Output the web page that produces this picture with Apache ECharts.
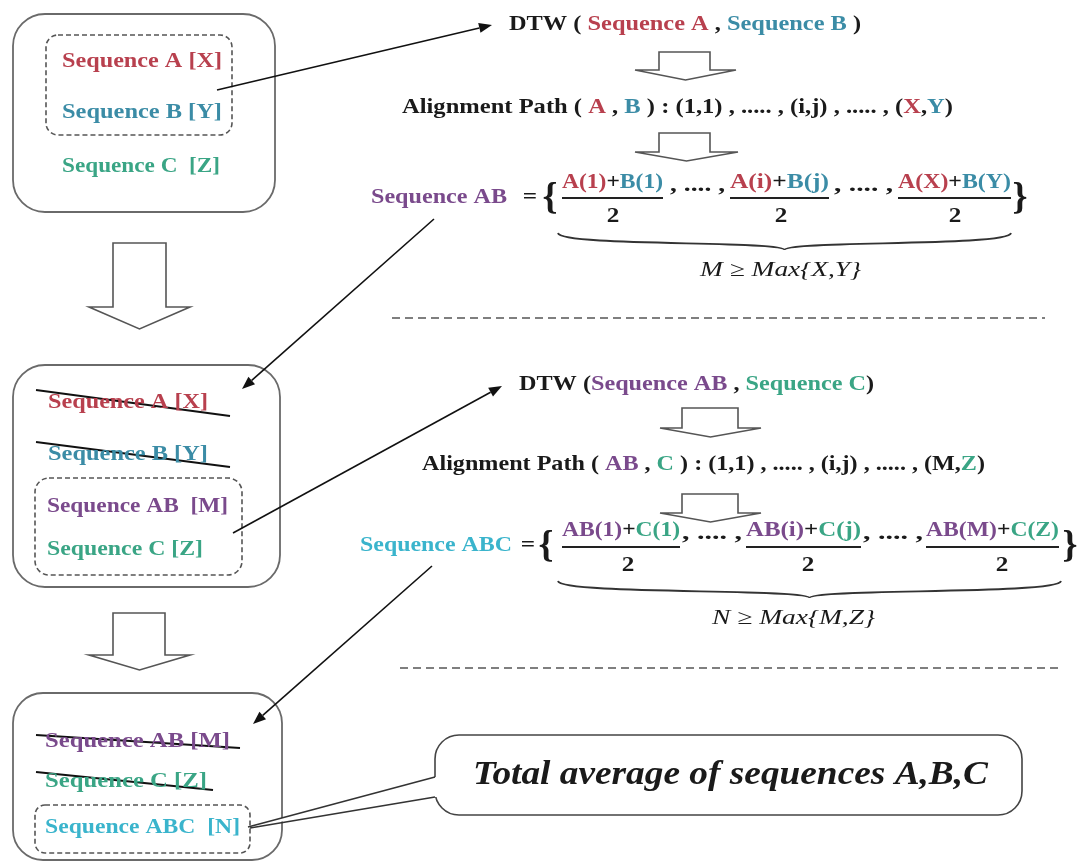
<!DOCTYPE html>
<html>
<head>
<meta charset="utf-8">
<script src="https://cdn.jsdelivr.net/npm/echarts@6/dist/echarts.min.js"></script>
<style>
  html, body { margin: 0; background: #fff; }
  #main { width: 1081px; height: 864px; }
</style>
</head>
<body>
<div id="main"></div>
<script>
// diagram texts
var boxOneLabels = ['Sequence A [X]', 'Sequence B [Y]', 'Sequence C  [Z]'];
var boxTwoLabels = ['Sequence A [X]', 'Sequence B [Y]', 'Sequence AB  [M]', 'Sequence C [Z]'];
var boxThreeLabels = ['Sequence AB [M]', 'Sequence C [Z]', 'Sequence ABC  [N]'];
var dtwPairs = [['Sequence A', 'Sequence B'], ['Sequence AB', 'Sequence C']];
var pathPairs = [['A', 'B'], ['AB', 'C']];
var pathEnds = [['X', 'Y'], ['M', 'Z']];
var resultNames = ['Sequence AB', 'Sequence ABC'];
var fracTermsAB = [['A(1)', 'B(1)'], ['A(i)', 'B(j)'], ['A(X)', 'B(Y)']];
var fracTermsABC = [['AB(1)', 'C(1)'], ['AB(i)', 'C(j)'], ['AB(M)', 'C(Z)']];
var fracDenom = '2';
var lengthRules = ['M \u2265 Max{X,Y}', 'N \u2265 Max{M,Z}'];
var calloutText = 'Total average of sequences A,B,C';

var colors = { k: '#1a1a1a', r: '#b8404e', b: '#3b8ca6', g: '#3aa585', p: '#7a4a8c', c: '#3ab4cc' };
var FONT = '"Liberation Serif", "Times New Roman", serif';
var ctx = document.createElement('canvas').getContext('2d');

function measure(str, font) {
  ctx.font = font;
  return ctx.measureText(str).width;
}

function richStyles(size, weight, fstyle) {
  var rich = {};
  Object.keys(colors).forEach(function (k) {
    rich[k] = { fill: colors[k], fontSize: size, fontFamily: FONT, fontWeight: weight, fontStyle: fstyle };
  });
  return rich;
}

// parts: [[text, colourKey], ...], stretched to fit between x0 and x1, centred on y
function label(parts, x0, x1, y, size, weight, fstyle) {
  size = size || 20;
  weight = weight || 'bold';
  fstyle = fstyle || 'normal';
  var font = fstyle + ' ' + weight + ' ' + size + 'px ' + FONT;
  var plain = parts.map(function (p) { return p[0]; }).join('');
  var w = measure(plain, font);
  return {
    type: 'text', x: x0, y: y, scaleX: (x1 - x0) / w, z: 10,
    style: {
      text: parts.map(function (p) { return '{' + p[1] + '|' + p[0] + '}'; }).join(''),
      rich: richStyles(size, weight, fstyle),
      font: font, fill: colors.k,
      align: 'left', verticalAlign: 'middle', textAlign: 'left', textVerticalAlign: 'middle'
    }
  };
}

function centerText(str, cx, y, size, color, sx) {
  return {
    type: 'text', x: cx, y: y, scaleX: sx || 1.2, z: 10,
    style: {
      text: str, font: 'bold ' + size + 'px ' + FONT, fill: color,
      align: 'center', verticalAlign: 'middle', textAlign: 'center', textVerticalAlign: 'middle'
    }
  };
}

function box(x, y, w, h, r, dashed) {
  return {
    type: 'rect', z: dashed ? 3 : 1,
    shape: { x: x, y: y, width: w, height: h, r: r },
    style: dashed
      ? { fill: 'none', stroke: '#555', lineWidth: 1.6, lineDash: [5, 3] }
      : { fill: '#fff', stroke: '#6a6a6a', lineWidth: 1.8 }
  };
}

function line(x1, y1, x2, y2, w, color) {
  return { type: 'line', z: 6, shape: { x1: x1, y1: y1, x2: x2, y2: y2 }, style: { stroke: color || '#111', lineWidth: w || 1.6 } };
}

function arrowLine(x1, y1, x2, y2) {
  var a = Math.atan2(y2 - y1, x2 - x1), L = 13, W = 5;
  var bx = x2 - L * Math.cos(a), by = y2 - L * Math.sin(a);
  return [
    line(x1, y1, bx, by),
    {
      type: 'polygon', z: 6,
      shape: { points: [[x2, y2], [bx - W * Math.sin(a), by + W * Math.cos(a)], [bx + W * Math.sin(a), by - W * Math.cos(a)]] },
      style: { fill: '#111' }
    }
  ];
}

// hollow block arrow pointing down
function downArrow(sx0, sx1, top, bottom, hx0, hx1, tipY) {
  var cx = (hx0 + hx1) / 2;
  return {
    type: 'polygon', z: 2,
    shape: { points: [[sx0, top], [sx1, top], [sx1, bottom], [hx1, bottom], [cx, tipY], [hx0, bottom], [sx0, bottom]] },
    style: { fill: '#fff', stroke: '#555', lineWidth: 1.6 }
  };
}

// horizontal curly brace opening upward
function brace(x0, x1, top, tip) {
  var cx = (x0 + x1) / 2;
  var st = { stroke: '#333', lineWidth: 1.8, fill: 'none' };
  return [
    { type: 'bezierCurve', z: 5, shape: { x1: x0, y1: top, cpx1: x0 + 2, cpy1: top + 14, cpx2: cx, cpy2: top + 7, x2: cx, y2: tip }, style: st },
    { type: 'bezierCurve', z: 5, shape: { x1: x1, y1: top, cpx1: x1 - 2, cpy1: top + 14, cpx2: cx, cpy2: top + 7, x2: cx, y2: tip }, style: st }
  ];
}

function boxLabels(labels, keys, xs, ys) {
  return labels.map(function (t, i) {
    return label([[t, keys[i]]], xs[i][0], xs[i][1], ys[i]);
  });
}

// averaged sequence formula block
function formula(name, nameKey, terms, ka, kb, rule, L) {
  var els = [];
  els.push(label([[name, nameKey]], L.nameX[0], L.nameX[1], L.y, 21));
  els.push(centerText('=', L.eqX, L.y, 21, colors.k, 1.2));
  els.push(centerText('{', L.open, L.y + 1, 38, colors.k, 1));
  els.push(centerText('}', L.close, L.y + 1, 38, colors.k, 1));
  terms.forEach(function (t, i) {
    var fx = L.fracX[i];
    els.push(label([[t[0], ka], ['+', 'k'], [t[1], kb]], fx[0], fx[1], L.numY, 21));
    els.push(line(fx[0], L.barY, fx[1], L.barY, 2.2, '#222'));
    els.push(centerText(fracDenom, L.denX[i], L.denY, 21, colors.k, 1.2));
  });
  L.sepX.forEach(function (sx) {
    els.push(label([[', .... ,', 'k']], sx[0], sx[1], L.numY + 3, 21));
  });
  els = els.concat(brace(L.brace[0], L.brace[1], L.brace[2], L.brace[3]));
  els.push(label([[rule, 'k']], L.ruleX[0], L.ruleX[1], L.ruleY, 21, 'normal', 'italic'));
  return els;
}

var els = [];

// left boxes
els.push(box(13, 14, 262, 198, 32));
els.push(box(46, 35, 186, 100, 12, true));
els = els.concat(boxLabels(boxOneLabels, ['r', 'b', 'g'], [[62, 222], [62, 222], [62, 220]], [62, 113, 167]));

els.push(box(13, 365, 267, 222, 32));
els.push(box(35, 478, 207, 97, 14, true));
els = els.concat(boxLabels(boxTwoLabels, ['r', 'b', 'p', 'g'], [[48, 208], [48, 208], [47, 228], [47, 203]], [403, 455, 507, 550]));
els.push(line(36, 390, 230, 416, 2));
els.push(line(36, 442, 230, 467, 2));

els.push(box(13, 693, 269, 167, 30));
els.push(box(35, 805, 215, 48, 10, true));
els = els.concat(boxLabels(boxThreeLabels, ['p', 'g', 'c'], [[45, 230], [45, 207], [45, 240]], [742, 782, 828]));
els.push(line(36, 735, 240, 748, 2));
els.push(line(36, 772, 213, 790, 2));

els.push(downArrow(113, 166, 243, 307, 89, 190, 329));
els.push(downArrow(113, 165, 613, 655, 89, 190, 670));

// first DTW step
els.push(label([['DTW ( ', 'k'], [dtwPairs[0][0], 'r'], [' , ', 'k'], [dtwPairs[0][1], 'b'], [' )', 'k']], 509, 861, 25, 21));
els.push(downArrow(659, 710, 52, 70, 635, 736, 80));
els.push(label([['Alignment Path ( ', 'k'], [pathPairs[0][0], 'r'], [' , ', 'k'], [pathPairs[0][1], 'b'],
  [' ) : (1,1) , ..... , (i,j) , ..... , (', 'k'], [pathEnds[0][0], 'r'], [',', 'k'], [pathEnds[0][1], 'b'], [')', 'k']], 402, 953, 108, 21));
els.push(downArrow(659, 710, 133, 152, 635, 738, 161));
els = els.concat(formula(resultNames[0], 'p', fracTermsAB, 'r', 'b', lengthRules[0], {
  nameX: [371, 507], eqX: 530, open: 550, close: 1020, y: 198, numY: 183, barY: 198, denY: 217,
  fracX: [[562, 663], [730, 829], [898, 1011]], denX: [613, 781, 955], sepX: [[670, 725], [834, 893]],
  brace: [558, 1011, 233, 250], ruleX: [700, 861], ruleY: 270
}));
els.push({ type: 'line', shape: { x1: 392, y1: 318, x2: 1045, y2: 318 }, style: { stroke: '#555', lineWidth: 1.5, lineDash: [8, 5] } });

// second DTW step
els.push(label([['DTW (', 'k'], [dtwPairs[1][0], 'p'], [' , ', 'k'], [dtwPairs[1][1], 'g'], [')', 'k']], 519, 874, 385, 21));
els.push(downArrow(682, 738, 408, 428, 660, 761, 437));
els.push(label([['Alignment Path ( ', 'k'], [pathPairs[1][0], 'p'], [' , ', 'k'], [pathPairs[1][1], 'g'],
  [' ) : (1,1) , ..... , (i,j) , ..... , (', 'k'], [pathEnds[1][0], 'k'], [',', 'k'], [pathEnds[1][1], 'g'], [')', 'k']], 422, 985, 465, 21));
els.push(downArrow(682, 738, 494, 513, 660, 761, 522));
els = els.concat(formula(resultNames[1], 'c', fracTermsABC, 'p', 'g', lengthRules[1], {
  nameX: [360, 512], eqX: 528, open: 546, close: 1070, y: 546, numY: 531, barY: 547, denY: 566,
  fracX: [[562, 680], [746, 861], [926, 1059]], denX: [628, 808, 1002], sepX: [[682, 742], [863, 923]],
  brace: [558, 1061, 581, 598], ruleX: [712, 875], ruleY: 618
}));
els.push({ type: 'line', shape: { x1: 400, y1: 668, x2: 1058, y2: 668 }, style: { stroke: '#555', lineWidth: 1.5, lineDash: [8, 5] } });

// connector arrows
els = els.concat(arrowLine(217, 90, 492, 25));
els = els.concat(arrowLine(434, 219, 242, 389));
els = els.concat(arrowLine(233, 533, 502, 386));
els = els.concat(arrowLine(432, 566, 253, 724));

// callout
els.push({ type: 'rect', z: 7, shape: { x: 435, y: 735, width: 587, height: 80, r: 24 }, style: { fill: '#fff', stroke: '#444', lineWidth: 1.6 } });
els.push({ type: 'polygon', z: 8, shape: { points: [[248, 827], [435, 777], [438, 777], [438, 797], [435, 797]] }, style: { fill: '#fff' } });
var tailA = line(248, 827, 435, 777, 1.6, '#333');
var tailB = line(250, 828, 435, 797, 1.6, '#333');
tailA.z = 9;
tailB.z = 9;
els.push(tailA, tailB);
els.push(label([[calloutText, 'k']], 473, 988, 775, 33, 'bold', 'italic'));

var myChart = echarts.init(document.getElementById('main'));
myChart.setOption({ animation: false, graphic: { elements: els } });
</script>
</body>
</html>
